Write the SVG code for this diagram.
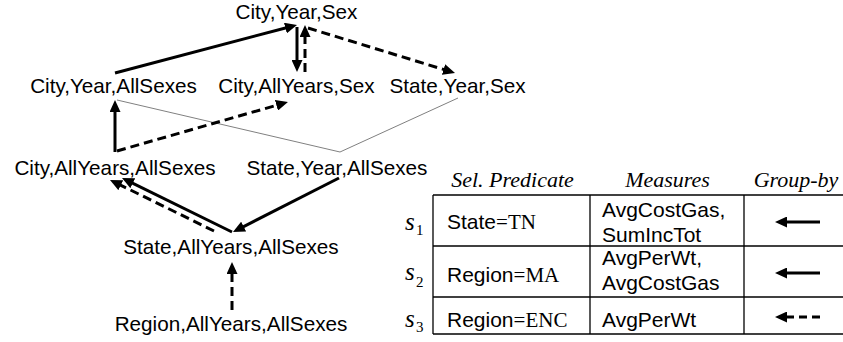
<svg xmlns="http://www.w3.org/2000/svg" width="843" height="342" viewBox="0 0 843 342">
<style>
.n{font-family:"Liberation Sans",Arial,sans-serif;font-size:20.7px;fill:#000;text-anchor:middle}
.t{font-family:"Liberation Sans",Arial,sans-serif;font-size:21px;fill:#000}
.tm{font-family:"Liberation Serif","Times New Roman",serif}
.h{font-family:"Liberation Serif","Times New Roman",serif;font-style:italic;font-size:22px;fill:#000;text-anchor:middle}
.s{font-family:"Liberation Serif","Times New Roman",serif;font-style:italic;font-size:25px;fill:#000}
.sub{font-family:"Liberation Serif","Times New Roman",serif;font-size:15px;fill:#000}
.e{stroke:#000;stroke-width:3;fill:none;marker-end:url(#ah)}
.d{stroke-dasharray:9 5}
.g{stroke:#808080;stroke-width:1;fill:none}
.tl{stroke:#000;stroke-width:1.3;fill:none}
</style>
<defs>
<marker id="ah" markerUnits="userSpaceOnUse" markerWidth="12" markerHeight="11" refX="6" refY="5.5" orient="auto" viewBox="0 0 12 11">
<path d="M0,0 L12,5.5 L0,11 z" fill="#000"/>
</marker>
</defs>

<g id="connectors">
<line class="g" x1="117" y1="100" x2="340" y2="152"/>
<line class="g" x1="340" y1="152" x2="458" y2="98"/>
<line class="e" x1="115" y1="73" x2="291.2" y2="26.5"/>
<line class="e" x1="297" y1="27" x2="297" y2="66"/>
<line class="e d" x1="305" y1="72" x2="305" y2="31"/>
<line class="e d" x1="308" y1="28" x2="449.3" y2="71.2"/>
<line class="e" x1="115" y1="152" x2="115" y2="106"/>
<line class="e d" x1="117" y1="151" x2="282.2" y2="103.65"/>
<line class="e" x1="232" y1="232" x2="127.4" y2="180.6"/>
<line class="e d" x1="214" y1="231" x2="115.4" y2="182.6"/>
<line class="e" x1="339" y1="178" x2="238.3" y2="229.3"/>
<line class="e d" x1="232" y1="310" x2="232" y2="268"/>
</g>

<g id="n_city_year_sex"><text class="n" x="296.5" y="19">City,Year,Sex</text></g>
<g id="n_city_year_allsexes"><text class="n" x="113.5" y="93">City,Year,AllSexes</text></g>
<g id="n_city_allyears_sex"><text class="n" x="296.5" y="93">City,AllYears,Sex</text></g>
<g id="n_state_year_sex"><text class="n" x="457.5" y="93">State,Year,Sex</text></g>
<g id="n_city_allyears_allsexes"><text class="n" x="115" y="175">City,AllYears,AllSexes</text></g>
<g id="n_state_year_allsexes"><text class="n" x="337" y="175">State,Year,AllSexes</text></g>
<g id="n_state_allyears_allsexes"><text class="n" x="231" y="254">State,AllYears,AllSexes</text></g>
<g id="n_region_allyears_allsexes"><text class="n" x="231" y="331">Region,AllYears,AllSexes</text></g>

<g id="table">
<text class="h" x="512.5" y="187">Sel. Predicate</text>
<text class="h" x="667.5" y="187">Measures</text>
<text class="h" x="796" y="187">Group-by</text>
<line class="tl" x1="433" y1="195" x2="843" y2="195"/>
<line class="tl" x1="433" y1="246" x2="843" y2="246"/>
<line class="tl" x1="433" y1="297" x2="843" y2="297"/>
<line class="tl" x1="433" y1="334" x2="843" y2="334"/>
<line class="tl" x1="433" y1="195" x2="433" y2="334"/>
<line class="tl" x1="590" y1="195" x2="590" y2="334"/>
<line class="tl" x1="744" y1="195" x2="744" y2="334"/>

<text class="s" x="405" y="230">s</text><text class="sub" x="416" y="235">1</text>
<text class="s" x="405" y="280">s</text><text class="sub" x="416" y="287">2</text>
<text class="s" x="405" y="327">s</text><text class="sub" x="416" y="332">3</text>

<text class="t" x="447" y="229">State<tspan class="tm">=TN</tspan></text>
<text class="t" x="447" y="282">Region<tspan class="tm">=MA</tspan></text>
<text class="t" x="447" y="327">Region<tspan class="tm">=ENC</tspan></text>

<text class="t" x="602" y="217">AvgCostGas,</text>
<text class="t" x="602" y="242">SumIncTot</text>
<text class="t" x="602" y="265">AvgPerWt,</text>
<text class="t" x="602" y="290">AvgCostGas</text>
<text class="t" x="602" y="327">AvgPerWt</text>

<line class="e" x1="820" y1="222" x2="781" y2="222"/>
<line class="e" x1="820" y1="273" x2="781" y2="273"/>
<line class="e" x1="820" y1="317" x2="781" y2="317" stroke-dasharray="8 5"/>
</g>
</svg>
